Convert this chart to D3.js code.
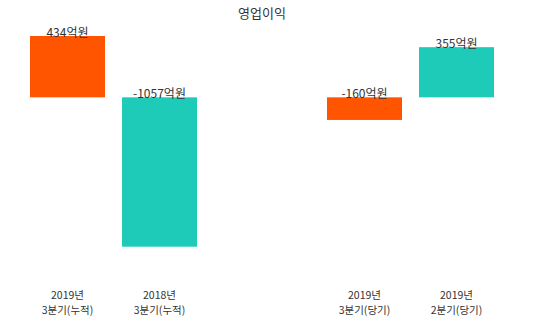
<!DOCTYPE html>
<html>
<head>
<meta charset="utf-8">
<script src="https://cdn.jsdelivr.net/npm/d3@7"></script>
<style>
  body { margin: 0; background: #fff; }
  text { font-family: "Noto Sans CJK KR", "Noto Sans", sans-serif; }
</style>
</head>
<body>
<div id="chart"></div>
<script>
const WIDTH = 550, HEIGHT = 322;

// data
const groups = ["누적", "당기"];
const years = [["2019년", "2018년"], ["2019년", "2019년"]];
const periods = [["3분기(누적)", "3분기(누적)"], ["3분기(당기)", "2분기(당기)"]];
const values = [[434, -1057], [-160, 355]];
const title = "영업이익";
const unit = "억원";

const COLORS = ["#ff5400", "#1ecbb9"];

let svg = d3.select("#chart")
    .append("svg")
    .attr("width", WIDTH)
    .attr("height", HEIGHT);

let x0 = d3.scaleBand()
    .domain(groups)
    .range([30, 494])
    .paddingInner(0.4377)
    .paddingOuter(0);

let x1 = d3.scaleBand()
    .domain([0, 1])
    .range([0, x0.bandwidth()])
    .paddingInner(0.185)
    .paddingOuter(0);

let y = d3.scaleLinear()
    .domain([-1057, 434])
    .range([246.7, 36]);

let rows = [];
groups.forEach(function(g, gi) {
    values[gi].forEach(function(v, i) {
        rows.push({group: g, idx: i, value: v, year: years[gi][i], period: periods[gi][i]});
    });
});

svg.selectAll("rect.bar")
    .data(rows)
    .enter()
    .append("rect")
    .attr("class", "bar")
    .attr("x", d => x0(d.group) + x1(d.idx))
    .attr("width", x1.bandwidth())
    .attr("y", d => y(Math.max(0, d.value)))
    .attr("height", d => Math.abs(y(d.value) - y(0)))
    .attr("fill", d => COLORS[d.idx]);

// value labels
svg.selectAll("text.val")
    .data(rows)
    .enter()
    .append("text")
    .attr("class", "val")
    .attr("x", d => x0(d.group) + x1(d.idx) + x1.bandwidth() / 2)
    .attr("y", d => y(Math.max(0, d.value)) + 1)
    .attr("text-anchor", "middle")
    .style("font-size", "12px")
    .style("fill", "#333")
    .text(d => d.value + unit);

// category labels
let cx = d => x0(d.group) + x1(d.idx) + x1.bandwidth() / 2;
svg.selectAll("text.year")
    .data(rows)
    .enter()
    .append("text")
    .attr("class", "year")
    .attr("x", cx)
    .attr("y", 298.5)
    .attr("text-anchor", "middle")
    .style("font-size", "10.5px")
    .style("fill", "#333")
    .text(d => d.year);
svg.selectAll("text.period")
    .data(rows)
    .enter()
    .append("text")
    .attr("class", "period")
    .attr("x", cx)
    .attr("y", 314)
    .attr("text-anchor", "middle")
    .style("font-size", "10.5px")
    .style("fill", "#333")
    .text(d => d.period);

svg.append("text")
    .attr("x", 262)
    .attr("y", 18)
    .attr("text-anchor", "middle")
    .style("font-size", "13px")
    .style("fill", "#333")
    .text(title);
</script>
</body>
</html>
